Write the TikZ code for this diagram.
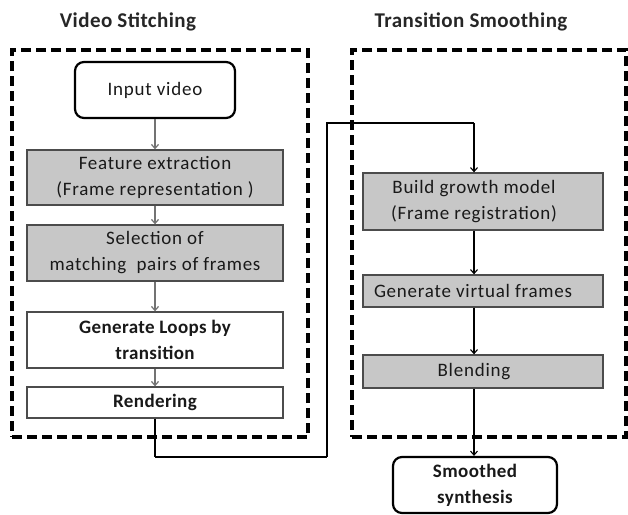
\documentclass[tikz,border=0pt]{standalone}
\usepackage{fontspec}
\setmainfont{Carlito}
\usetikzlibrary{arrows.meta}
\begin{document}
\begin{tikzpicture}[x=1pt,y=-1pt,
  txt/.style={font=\fontsize{19}{26}\selectfont\addfontfeature{LetterSpace=4}, align=center, text=black!90, inner sep=0pt},
  btxt/.style={txt, font=\fontsize{19}{26}\selectfont\bfseries\addfontfeature{LetterSpace=2}},
  box/.style={draw=black!70, line width=1.3pt, inner sep=0pt},
  graybox/.style={box, fill=black!22},
  roundbox/.style={draw=black, line width=2.2pt, rounded corners=9pt, inner sep=0pt},
  region/.style={draw=black, line width=3.2pt, dash pattern=on 10pt off 5pt, inner sep=0pt},
  title/.style={font=\fontsize{21}{24}\selectfont\bfseries\addfontfeature{LetterSpace=2}, text=black!85, inner sep=0pt},
  garrow/.style={draw=black!55, line width=1.2pt, -{Straight Barb[length=4pt,width=7pt]}},
  barrow/.style={draw=black, line width=1.1pt, -{Straight Barb[length=4pt,width=7pt]}},
  link/.style={draw=black, line width=2pt}]
\useasboundingbox (0,0) rectangle (628,514);

% titles
\node[title] (t1) at (128,22) {Video Stitching};
\node[title] (t2) at (471,22) {Transition Smoothing};

% region frames
\node[region, minimum width=296pt, minimum height=387pt] (r1) at (160,243.5) {};
\node[region, minimum width=274pt, minimum height=387pt] (r2) at (489,243.5) {};

% left column
\node[roundbox, minimum width=160pt, minimum height=56pt, txt] (in) at (155,90) {Input video};
\node[graybox, minimum width=256pt, minimum height=55pt, txt] (fe) at (155,177.5) {Feature extraction\\(Frame representation )};
\node[graybox, minimum width=256pt, minimum height=56pt, txt] (sel) at (155,253) {Selection of\\matching\ \ pairs of frames};
\node[box, fill=white, minimum width=256pt, minimum height=56pt, btxt] (gl) at (155,340) {Generate Loops by\\transition};
\node[box, fill=white, minimum width=256pt, minimum height=31pt, btxt] (ren) at (155,402.5) {Rendering};

\draw[garrow] (in) -- (fe);
\draw[garrow] (fe) -- (sel);
\draw[garrow] (sel) -- (gl);
\draw[garrow] (gl) -- (ren);

% right column
\node[graybox, minimum width=240pt, minimum height=57pt] (bg) at (483,201.5) {};
\node[txt] (bgt) at (474,201.5) {Build growth model\\(Frame registration)};
\node[graybox, minimum width=240pt, minimum height=32pt] (gv) at (483,291) {};
\node[txt] (gvt) at (473,291) {Generate virtual frames};
\node[graybox, minimum width=240pt, minimum height=33pt] (bl) at (483,371.5) {};
\node[txt] (blt) at (474,371.5) {Blending};
\node[roundbox, minimum width=164pt, minimum height=56pt, btxt] (sm) at (475,485) {Smoothed\\synthesis};

\coordinate (cx) at (474,0);
\draw[barrow] (cx |- bg.south) -- (cx |- gv.north);
\draw[barrow] (cx |- gv.south) -- (cx |- bl.north);
\draw[barrow] (cx |- bl.south) -- (cx |- sm.north);

% link from rendering to build growth model
\coordinate (l1) at (155,457);
\coordinate (l2) at (327,457);
\coordinate (l3) at (327,123);
\coordinate (l4) at (474,123);
\draw[link] (ren.south) -- (l1);
\draw[draw=black, line width=1.2pt] (l1) -- (l2);
\draw[link] (l2) -- (l3) -- (l4);
\draw[barrow] (l4) -- (cx |- bg.north);
\end{tikzpicture}
\end{document}
